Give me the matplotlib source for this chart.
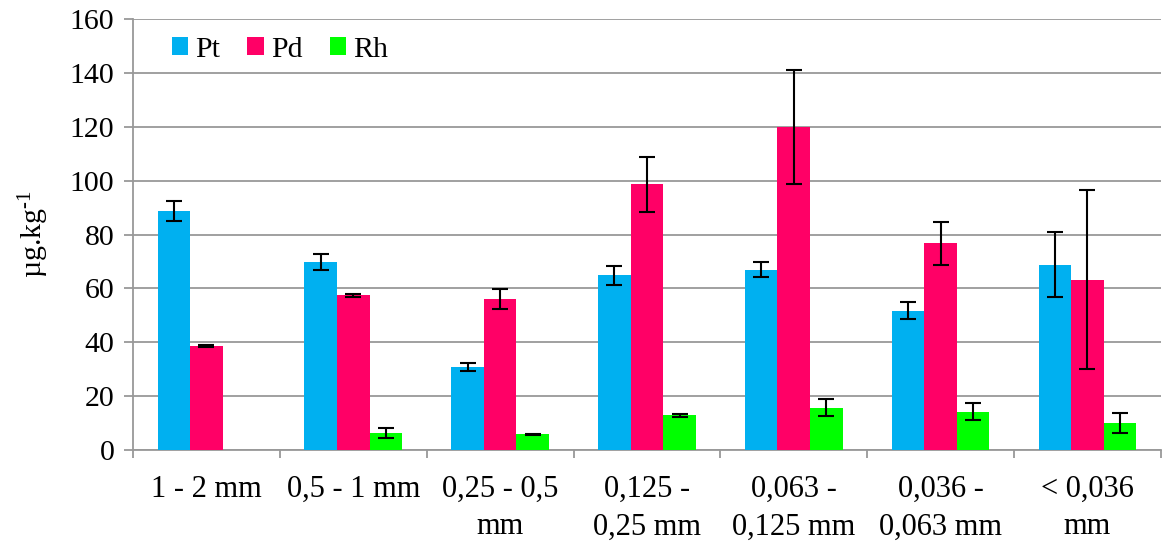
import numpy as np
import matplotlib
matplotlib.use("Agg")
import matplotlib.pyplot as plt

categories = ["1 - 2 mm", "0,5 - 1 mm", "0,25 - 0,5\nmm", "0,125 -\n0,25 mm",
              "0,063 -\n0,125 mm", "0,036 -\n0,063 mm", "< 0,036\nmm"]
series_names = ["Pt", "Pd", "Rh"]
pt_vals = [88.7, 69.9, 30.8, 64.8, 66.9, 51.8, 68.8]
pt_err = [3.6, 2.9, 1.5, 3.4, 2.8, 3.1, 12.0]
pd_vals = [38.7, 57.4, 56.0, 98.6, 119.9, 76.7, 63.2]
pd_err = [0.4, 0.5, 3.8, 10.3, 21.2, 8.0, 33.2]
rh_vals = [0.2, 6.3, 5.8, 12.9, 15.8, 14.2, 9.9]
rh_err = [np.nan, 1.9, 0.3, 0.5, 3.1, 3.1, 3.7]
colors = ["#00B0F0", "#FF0066", "#00FF00"]
yticks = [0, 20, 40, 60, 80, 100, 120, 140, 160]

plt.rcParams['font.family'] = ['Liberation Serif', 'DejaVu Serif']
plt.rcParams['mathtext.fontset'] = 'custom'
plt.rcParams['mathtext.rm'] = 'Liberation Serif'
plt.rcParams['mathtext.it'] = 'Liberation Serif:italic'

FS = 21.5
fig = plt.figure(figsize=(11.62, 5.41), dpi=100)
ax = fig.add_axes([0.1145, 0.168, 0.8845, 0.797])

x = np.arange(len(categories))
w = 0.222
vals = [pt_vals, pd_vals, rh_vals]
errs = [pt_err, pd_err, rh_err]
for i, (v, e, c, n) in enumerate(zip(vals, errs, colors, series_names)):
    ax.bar(x + (i - 1) * w, v, width=w, color=c, label=n, zorder=3,
           yerr=e, capsize=6, error_kw=dict(ecolor='black', elinewidth=1.5, capthick=1.5, zorder=4))

ax.set_xlim(-0.5, len(categories) - 0.5)
ax.set_ylim(0, 160)
ax.set_yticks(yticks)
ax.yaxis.grid(True, color='#999999', linewidth=1.3, zorder=0)
ax.set_axisbelow(True)
for s in ['top', 'right']:
    ax.spines[s].set_visible(False)
ax.spines['left'].set_color('#999999')
ax.spines['bottom'].set_color('#999999')
ax.spines['left'].set_linewidth(1.3)
ax.spines['bottom'].set_linewidth(1.3)

ax.set_xticks(x)
ax.set_xticklabels(categories, fontsize=22, linespacing=1.38, va='top')
ax.tick_params(axis='x', length=0, pad=18)
ax.set_xticks(np.arange(-0.5, len(categories), 1.0), minor=True)
ax.tick_params(axis='x', which='minor', length=6, width=1.3, color='#999999')
ax.tick_params(axis='y', length=6.5, width=1.3, color='#999999', labelsize=FS, pad=7)

ax.set_ylabel(r"µg.kg$^{\text{-1}}$", fontsize=FS, labelpad=13)

ax.legend(loc='upper left', bbox_to_anchor=(0.02, 1.0), ncol=3, frameon=False,
          fontsize=FS, handlelength=0.55, handleheight=0.55, handletextpad=0.25,
          columnspacing=0.9, borderaxespad=0.2)

fig.savefig("out.png", dpi=100)
